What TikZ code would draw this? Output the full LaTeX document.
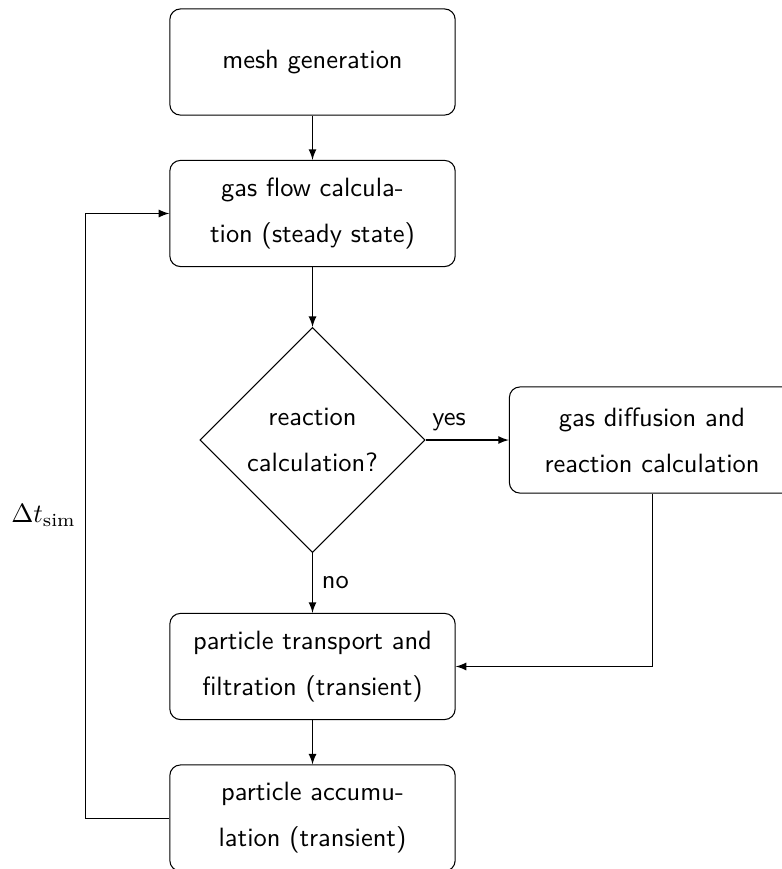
\documentclass[tikz,border=0pt]{standalone}
\usepackage{amsmath}
\usetikzlibrary{arrows,shapes,calc}
\tikzset{
         block/.style=
          {
           draw,rounded corners,align=center,
           text width=3.4cm,minimum width=3.79cm,minimum height=1.41cm,
           font=\sffamily\linespread{1.45}\selectfont
          },
         decision/.style=
          {
           draw,diamond,aspect=1,align=center,inner sep=0pt,minimum size=2.99cm,
           font=\sffamily\linespread{1.45}\selectfont
          },
         flowline/.style={draw,-latex},
         lbl/.style={font=\sffamily}
        }
\begin{document}
\begin{tikzpicture}
\useasboundingbox(0,0)rectangle(10.387,11.543);
\clip(0,0)rectangle(10.387,11.543);
\node[block](mesh)at(4.151,10.719){mesh generation};
\node[block](flow)at(4.151,8.707){gas flow calcula-\\tion (steady state)};
\node[decision](react)at(4.151,5.698){reaction\\calculation?};
\node[block](diffusion)at(8.661,5.698){gas diffusion and\\reaction calculation};
\node[block](transport)at(4.151,2.690){particle transport and\\filtration (transient)};
\node[block](accum)at(4.151,0.677){particle accumu-\\lation (transient)};
\draw[flowline](mesh)--(flow);
\draw[flowline](flow)--(react);
\draw[flowline](react.east)--node[lbl,above right,pos=0,xshift=-1pt]{yes}(diffusion.west);
\draw[flowline](react.south)--node[lbl,right]{no}(transport.north);
\draw[flowline](diffusion.south)|-(transport.east);
\draw[flowline](transport)--(accum);
\draw[flowline](accum.west)--++(-1.116,0)|-node[left,pos=0.25]{$\Delta t_{\text{sim}}$}(flow.west);
\end{tikzpicture}
\end{document}
